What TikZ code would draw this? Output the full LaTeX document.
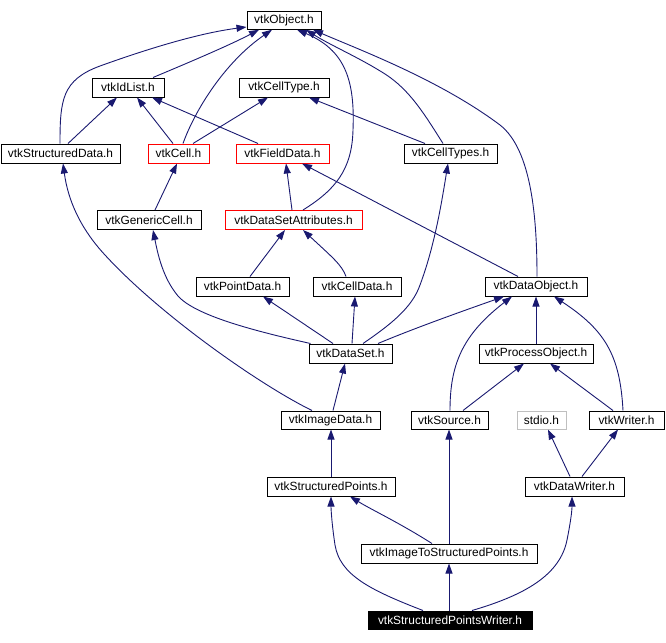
\documentclass[tikz,border=0pt]{standalone}
\usepackage{fontspec}
\setmainfont{Liberation Sans}
\usetikzlibrary{arrows.meta}
\definecolor{edgeblue}{HTML}{191970}
\definecolor{lightgraybox}{HTML}{BFBFBF}
\begin{document}
\begin{tikzpicture}[x=1pt,y=-1pt,
  box/.style={draw=black, line width=1pt, inner sep=0pt, minimum height=19pt, fill=white,
    font=\fontsize{11.9}{14}\selectfont},
  redbox/.style={box, draw=red},
  graybox/.style={box, draw=lightgraybox},
  rootbox/.style={box, fill=black, text=white},
  edge/.style={draw=edgeblue, line width=0.9pt, -{Triangle[length=10pt,width=7pt]}}
]
\useasboundingbox (0,0) rectangle (666,642);
% nodes
\node[box, minimum width=74pt, minimum height=17.5pt] (obj) at (284,20.5) {vtkObject.h};
\node[box, minimum width=72pt] (idlist) at (128,87.5) {vtkIdList.h};
\node[box, minimum width=90pt] (celltype) at (284,87.5) {vtkCellType.h};
\node[box, minimum width=119pt] (sdata) at (60.5,153.5) {vtkStructuredData.h};
\node[redbox, minimum width=61pt] (cell) at (178.5,153.5) {vtkCell.h};
\node[redbox, minimum width=93pt] (fdata) at (282.5,153.5) {vtkFieldData.h};
\node[box, minimum width=93pt] (celltypes) at (450.5,153.5) {vtkCellTypes.h};
\node[box, minimum width=104pt] (gcell) at (149,220) {vtkGenericCell.h};
\node[redbox, minimum width=137pt] (dsattr) at (293.5,220) {vtkDataSetAttributes.h};
\node[box, minimum width=93pt] (pdata) at (242.5,286.5) {vtkPointData.h};
\node[box, minimum width=88pt] (cdata) at (357,286.5) {vtkCellData.h};
\node[box, minimum width=102pt] (dobj) at (536,286.5) {vtkDataObject.h};
\node[box, minimum width=83pt] (dset) at (350.5,353.5) {vtkDataSet.h};
\node[box, minimum width=114pt] (pobj) at (536,353.5) {vtkProcessObject.h};
\node[box, minimum width=99pt, minimum height=18pt] (idata) at (330.5,420) {vtkImageData.h};
\node[box, minimum width=77pt, minimum height=18pt] (source) at (449.5,420) {vtkSource.h};
\node[graybox, minimum width=49pt, minimum height=18pt] (stdio) at (541.5,420) {stdio.h};
\node[box, minimum width=75pt, minimum height=18pt] (writer) at (626.5,420) {vtkWriter.h};
\node[box, minimum width=128pt] (spoints) at (331,486.5) {vtkStructuredPoints.h};
\node[box, minimum width=99pt] (dwriter) at (574.5,486.5) {vtkDataWriter.h};
\node[box, minimum width=176pt] (its) at (449,553.5) {vtkImageToStructuredPoints.h};
\node[rootbox, minimum width=164pt, minimum height=18pt] (spw) at (450,620) {vtkStructuredPointsWriter.h};
% edges
\draw[edge] ([xshift=-0.5pt]sdata.north) .. controls (60,100) and (62,80) .. (100,66) .. controls (150,48) and (200,33) .. ([yshift=-6.5pt]obj.west);
\draw[edge] ([xshift=25pt]idlist.north) .. controls (190,62) and (230,45) .. ([xshift=-25pt]obj.south);
\draw[edge] ([xshift=4.5pt]cell.north) .. controls (195,110) and (225,62) .. ([xshift=-12pt]obj.south);
\draw[edge] ([xshift=7.5pt]sdata.north) -- ([xshift=-11pt]idlist.south);
\draw[edge] ([xshift=-5.5pt]cell.north) -- ([xshift=9pt]idlist.south);
\draw[edge] ([xshift=-24.5pt]fdata.north) -- ([xshift=24pt]idlist.south);
\draw[edge] ([xshift=14.5pt]cell.north) -- ([xshift=-16pt]celltype.south);
\draw[edge] ([xshift=-25.5pt]celltypes.north) -- ([xshift=25pt]celltype.south);
\draw[edge] ([xshift=-7.5pt]celltypes.north) .. controls (425,115) and (410,90) .. (385,74) .. controls (360,58) and (330,45) .. ([xshift=22pt]obj.south);
\draw[edge] ([xshift=9.5pt]dsattr.north) .. controls (335,190) and (352,170) .. (353,130) .. controls (355,80) and (345,50) .. ([xshift=13pt]obj.south);
\draw[edge] ([xshift=1pt]dobj.north) .. controls (537,220) and (532,150) .. (500,125) .. controls (440,80) and (360,50) .. ([xshift=29pt]obj.south);
\draw[edge] ([xshift=-1.5pt]dsattr.north) -- ([xshift=3.5pt]fdata.south);
\draw[edge] ([xshift=-18pt]dobj.north) -- ([xshift=19.5pt]fdata.south);
\draw[edge] ([xshift=6pt]gcell.north) -- ([xshift=-1.5pt]cell.south);
\draw[edge] ([xshift=7.5pt]pdata.north) -- ([xshift=-8.5pt]dsattr.south);
\draw[edge] ([xshift=-11pt]cdata.north) .. controls (342,265) and (332,257) .. ([xshift=9.5pt]dsattr.south);
\draw[edge] ([xshift=-40pt]dset.north) .. controls (250,330) and (195,315) .. (178,296) .. controls (163,278) and (158,255) .. ([xshift=4pt]gcell.south);
\draw[edge] ([xshift=-17.5pt]dset.north) -- ([xshift=20.5pt]pdata.south);
\draw[edge] ([xshift=1.5pt]dset.north) -- ([xshift=-2pt]cdata.south);
\draw[edge] ([xshift=12.5pt]dset.north) .. controls (390,325) and (412,308) .. (420,285) .. controls (435,245) and (442,200) .. ([xshift=-2.5pt]celltypes.south);
\draw[edge] ([xshift=27.5pt]dset.north) .. controls (415,328) and (460,312) .. ([xshift=-32pt]dobj.south);
\draw[edge] ([xshift=-18.5pt]idata.north) .. controls (260,385) and (160,315) .. (105,255) .. controls (80,228) and (68,200) .. ([xshift=2.5pt]sdata.south);
\draw[edge] ([xshift=2.5pt]idata.north) -- ([xshift=-5.5pt]dset.south);
\draw[edge] ([xshift=0.5pt]source.north) .. controls (450,365) and (462,335) .. ([xshift=-24pt]dobj.south);
\draw[edge] ([xshift=13.5pt]source.north) -- ([xshift=-12pt]pobj.south);
\draw[edge] (pobj.north) -- (dobj.south);
\draw[edge] ([xshift=-13.5pt]writer.north) -- ([xshift=14pt]pobj.south);
\draw[edge] ([xshift=-3.5pt]writer.north) .. controls (620,355) and (605,330) .. ([xshift=18pt]dobj.south);
\draw[edge] (spoints.north) -- ([xshift=0.5pt]idata.south);
\draw[edge] ([xshift=-4.5pt]dwriter.north) -- ([xshift=6.5pt]stdio.south);
\draw[edge] ([xshift=7.5pt]dwriter.north) -- ([xshift=-8.5pt]writer.south);
\draw[edge] ([xshift=-17pt]its.north) .. controls (398,522) and (372,510) .. ([xshift=19pt]spoints.south);
\draw[edge] (its.north) -- ([xshift=-0.5pt]source.south);
\draw[edge] ([xshift=-27pt]spw.north) .. controls (370,590) and (340,575) .. (335,545) .. controls (332,525) and (331,510) .. (spoints.south);
\draw[edge] ([xshift=-1pt]spw.north) -- (its.south);
\draw[edge] ([xshift=22pt]spw.north) .. controls (525,595) and (560,575) .. (567,540) .. controls (571,520) and (572,510) .. ([xshift=-2.5pt]dwriter.south);
\end{tikzpicture}
\end{document}
